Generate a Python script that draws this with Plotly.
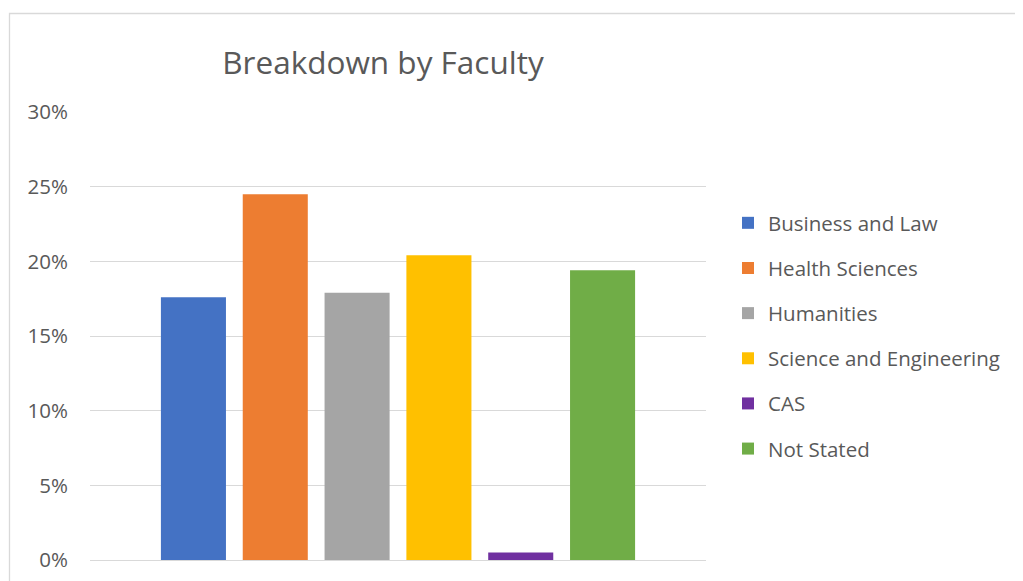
import plotly.graph_objects as go

categories = ["Business and Law", "Health Sciences", "Humanities",
              "Science and Engineering", "CAS", "Not Stated"]
values = [0.176, 0.245, 0.179, 0.204, 0.005, 0.194]
colors = ["#4472C4", "#ED7D31", "#A5A5A5", "#FFC000", "#7030A0", "#70AD47"]
y_ticks = [0, 0.05, 0.10, 0.15, 0.20, 0.25, 0.30]

FONT = "Open Sans"
TXT = "#595959"
OFF = 8  # browser default body margin

fig = go.Figure()
for i, (name, v, c) in enumerate(zip(categories, values, colors)):
    fig.add_trace(go.Bar(
        x=[0], y=[v], name=name, marker=dict(color=c, line=dict(width=0)),
        legendgroup=f"g{i}",
    ))

W, H = 1023 - OFF, 581 - OFF
L, R, T, B = 90 - OFF, 706 - OFF, 112 - OFF, 560 - OFF
fig.update_layout(
    width=W, height=H,
    margin=dict(l=L, r=W - R, t=T, b=H - B, autoexpand=False),
    paper_bgcolor="white", plot_bgcolor="white",
    barmode="group", bargap=0.203, bargroupgap=0.205,
    font=dict(family=FONT, color=TXT, size=20),
    title=dict(text="Breakdown by Faculty", font=dict(family=FONT, size=31.5, color=TXT),
               x=(383 - OFF - L) / (R - L), xref="paper", xanchor="center",
               y=1 - (63 - OFF) / H, yref="container", yanchor="middle"),
    xaxis=dict(range=[-0.5, 0.5], showticklabels=False, showgrid=False,
               zeroline=False, showline=False, ticks=""),
    yaxis=dict(range=[0, 0.30], tickvals=y_ticks, tickformat=".0%",
               showgrid=True, gridcolor="#D9D9D9", gridwidth=1.3,
               zeroline=True, zerolinecolor="#D9D9D9", zerolinewidth=1.3,
               showline=False, ticks="", ticklabelstandoff=21,
               tickfont=dict(family=FONT, size=20.5, color=TXT)),
    legend=dict(x=(728 - OFF - L) / (R - L), xanchor="left",
                y=(560 - 203) / (B - T),
                yanchor="top", traceorder="grouped", tracegroupgap=15.5,
                font=dict(family=FONT, size=20.5, color=TXT),
                bgcolor="rgba(0,0,0,0)"),
    showlegend=True,
)

# chart area border (Excel chart frame)
fig.add_shape(type="rect", xref="paper", yref="paper",
              x0=(9.5 - 90) / (R - L), x1=(1040 - 90) / (R - L),
              y0=(560 - 600) / (B - T), y1=(560 - 13.5) / (B - T),
              line=dict(color="#D9D9D9", width=1.3), fillcolor="rgba(0,0,0,0)",
              layer="below")

fig.write_html("out.html")
